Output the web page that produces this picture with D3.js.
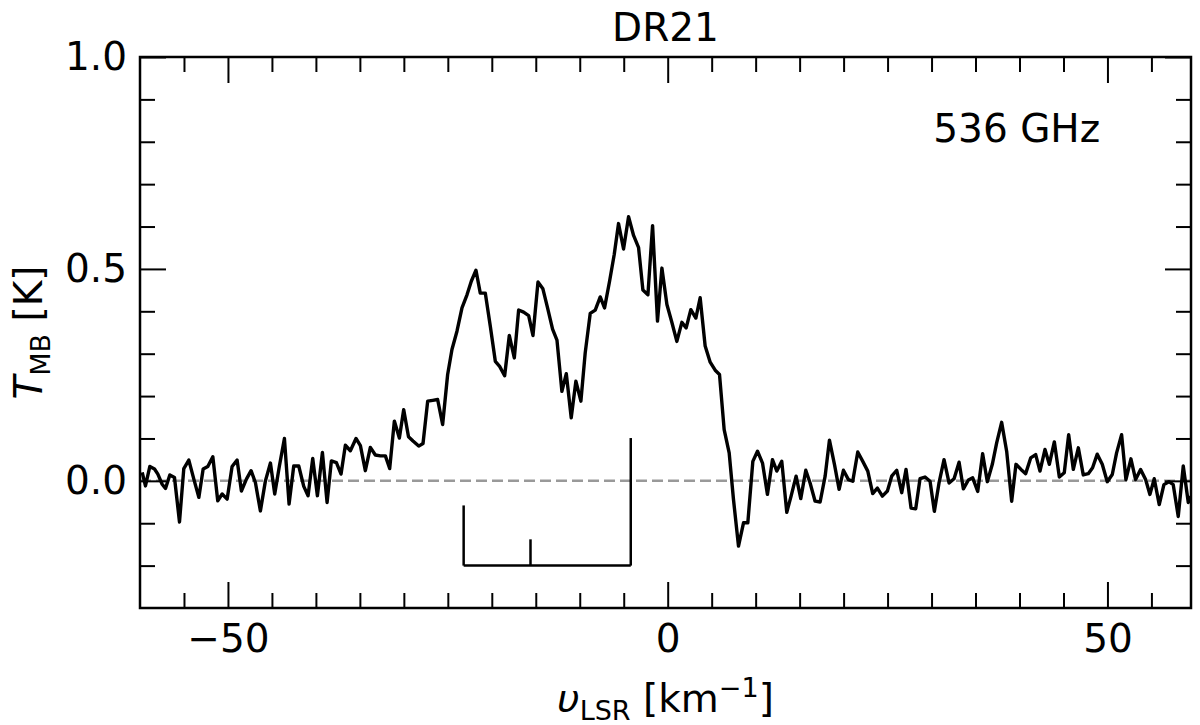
<!DOCTYPE html>
<meta charset="utf-8">
<script src="https://d3js.org/d3.v7.min.js"></script>

<div id="my_dataviz"></div>

<style>
  body { margin: 0; background: white; }
  #my_dataviz text { font-family: "DejaVu Sans", sans-serif; fill: black; }
</style>

<script>
  // Spectrum: velocity (km/s) and main beam temperature (K)
  var velocity = [
    -59.75,-59.38,-58.88,-58.35,-57.97,-57.48,-57.10,-56.61,-56.08,-55.51,
    -55.02,-54.45,-53.88,-53.31,-52.82,-52.29,-51.72,-51.16,-50.66,-50.09,
    -49.53,-48.96,-48.47,-47.90,-47.37,-46.88,-46.31,-45.74,-45.17,-44.68,
    -44.15,-43.58,-43.05,-42.52,-41.95,-41.38,-40.89,-40.36,-39.83,-39.26,
    -38.73,-38.24,-37.67,-37.14,-36.65,-36.08,-35.44,-34.94,-34.38,-33.81,
    -33.24,-32.67,-32.10,-31.61,
    -31.08,-30.51,-30.02,-29.47,-28.96,-28.31,-27.82,-27.29,-26.72,-26.16,
    -25.59,-25.02,-24.53,-23.96,-23.39,-22.82,-22.33,-21.80,-21.31,-20.74,
    -20.17,-19.60,-19.11,-18.54,-18.01,-17.44,-16.95,-16.38,-15.81,-15.32,
    -14.75,-14.19,-13.66,-13.09,-12.59,-12.03,-11.53,-10.97,-10.44,-9.87,
    -9.38,-8.81,-8.24,-7.67,
    -7.18,-6.61,-6.08,-5.59,-5.02,-4.45,-3.88,-3.31,-2.82,-2.25,
    -1.72,-1.16,-0.66,-0.09,0.47,1.04,1.61,2.10,2.63,3.20,
    3.69,4.26,4.83,5.40,5.89,6.42,6.99,7.48,8.05,8.62,
    9.11,9.68,10.21,10.78,
    11.34,11.91,12.41,12.97,13.54,14.03,14.60,15.13,15.70,16.19,
    16.76,17.33,17.90,18.39,18.96,19.49,19.98,20.55,21.04,21.61,
    22.18,22.75,23.31,23.84,24.41,24.98,25.47,26.04,26.61,27.10,
    27.67,28.20,28.69,29.26,29.83,30.32,30.85,31.42,31.99,32.56,
    33.13,33.62,34.19,34.68,
    35.25,35.81,36.34,36.91,37.41,37.97,38.54,39.11,39.60,40.17,
    40.70,41.27,41.84,42.33,42.90,43.39,43.96,44.53,45.09,45.59,
    46.12,46.69,47.25,47.82,48.31,48.84,49.41,49.98,50.55,51.04,
    51.61,52.10,52.67,53.20,53.77,54.34,54.83,55.32,55.89,56.42,
    56.99,57.48,58.05,58.62,59.19,59.45
  ];
  var tmb = [
    0.020,-0.012,0.034,0.028,0.016,-0.008,-0.018,0.014,0.008,-0.097,
    0.029,0.049,0.004,-0.039,0.028,0.034,0.057,-0.047,-0.031,-0.043,
    0.034,0.049,-0.024,0.004,0.024,-0.004,-0.071,0.000,0.042,-0.031,
    0.035,0.100,-0.055,0.035,0.035,-0.013,-0.035,0.053,-0.035,0.067,
    -0.051,0.047,0.043,0.016,0.084,0.071,0.100,0.083,0.024,0.079,
    0.061,0.059,0.059,0.029,
    0.141,0.101,0.168,0.104,0.094,0.082,0.088,0.188,0.190,0.192,
    0.133,0.251,0.310,0.353,0.408,0.439,0.471,0.497,0.443,0.443,
    0.365,0.282,0.270,0.248,0.343,0.290,0.403,0.398,0.390,0.343,
    0.469,0.453,0.408,0.358,0.332,0.211,0.253,0.149,0.235,0.188,
    0.302,0.395,0.403,0.434,
    0.408,0.471,0.534,0.607,0.547,0.623,0.579,0.550,0.450,0.439,
    0.602,0.377,0.502,0.416,0.374,0.329,0.374,0.361,0.404,0.384,
    0.432,0.318,0.280,0.261,0.251,0.121,0.066,-0.044,-0.154,-0.099,
    -0.099,0.046,0.070,0.042,
    -0.032,0.050,0.023,0.046,-0.074,-0.036,0.011,-0.042,0.025,-0.005,
    -0.048,-0.050,0.011,0.096,0.039,-0.020,0.025,0.003,-0.001,0.068,
    0.046,0.023,-0.030,-0.017,-0.036,-0.024,0.011,0.025,-0.028,0.027,
    -0.064,-0.066,0.005,0.009,-0.001,-0.072,-0.005,0.050,-0.005,0.005,
    0.044,-0.019,0.002,0.007,
    -0.025,0.064,-0.002,0.039,0.090,0.138,0.070,-0.048,0.039,0.027,
    0.017,0.054,0.062,0.023,0.074,0.039,0.092,0.009,0.019,0.109,
    0.027,0.078,0.014,0.017,0.031,0.063,0.039,-0.002,0.015,0.066,
    0.109,0.003,0.052,0.003,0.027,0.003,-0.032,0.005,-0.056,-0.009,
    -0.002,-0.009,-0.084,0.035,-0.051,-0.036
  ];

  // Hyperfine component markers (velocity, top of stick) and the bar they hang from
  var hfsVelocity = [-23.2, -15.6, -4.2];
  var hfsTop = [-0.058, -0.138, 0.101];
  var hfsBase = -0.2;

  // Axis ticks
  var xMajor = [-50, 0, 50];
  var xMinor = [-55, -45, -40, -35, -30, -25, -20, -15, -10, -5, 5, 10, 15, 20, 25, 30, 35, 40, 45, 55];
  var yMajor = [0.0, 0.5, 1.0];
  var yMinor = [-0.2, -0.1, 0.1, 0.2, 0.3, 0.4, 0.6, 0.7, 0.8, 0.9];

  var data = velocity.map(function(v, i) { return {v: v, t: tmb[i]}; });

  // Dimensions and margins of graph
  var margin = {top: 57, right: 9, bottom: 117, left: 140},
      width = 1200 - margin.left - margin.right,
      height = 725 - margin.top - margin.bottom;

  var root = d3.select("#my_dataviz")
    .append("svg")
      .attr("width", 1200)
      .attr("height", 725);

  var svg = root.append("g")
      .attr("transform", "translate(" + margin.left + "," + margin.top + ")");

  var x = d3.scaleLinear().domain([-60, 59.5]).range([0, width]);
  var y = d3.scaleLinear().domain([-0.3, 1.0]).range([height, 0]);

  svg.append("clipPath").attr("id", "clip")
    .append("rect").attr("width", width).attr("height", height);

  // zero line
  svg.append("line")
    .attr("x1", 0).attr("x2", width)
    .attr("y1", y(0)).attr("y2", y(0))
    .attr("stroke", "#999999")
    .attr("stroke-width", 2.5)
    .attr("stroke-dasharray", "11,5");

  // the spectrum
  svg.append("path")
    .datum(data)
    .attr("clip-path", "url(#clip)")
    .attr("fill", "none")
    .attr("stroke", "black")
    .attr("stroke-width", 3.4)
    .attr("stroke-linejoin", "round")
    .attr("d", d3.line()
      .x(function(d) { return x(d.v); })
      .y(function(d) { return y(d.t); }));

  // hyperfine sticks
  svg.append("line")
    .attr("x1", x(d3.min(hfsVelocity))).attr("x2", x(d3.max(hfsVelocity)))
    .attr("y1", y(hfsBase)).attr("y2", y(hfsBase))
    .attr("stroke", "black").attr("stroke-width", 2.5);
  svg.selectAll(".hfs")
    .data(hfsVelocity)
    .enter()
    .append("line")
      .attr("class", "hfs")
      .attr("x1", function(d) { return x(d); })
      .attr("x2", function(d) { return x(d); })
      .attr("y1", y(hfsBase))
      .attr("y2", function(d, i) { return y(hfsTop[i]); })
      .attr("stroke", "black")
      .attr("stroke-width", 2.5);

  // axes, ticks pointing inwards on all four sides
  function fmt(d) { return d3.format(".0f")(d).replace("-", "\u2212"); }
  function styleAxis(g) {
    g.selectAll("path").remove();
    g.selectAll("line").attr("stroke", "black").attr("stroke-width", 2);
    g.selectAll("text").attr("font-size", "39px");
  }

  svg.append("g").attr("transform", "translate(0," + height + ")")
    .call(d3.axisBottom(x).tickValues(xMajor).tickSize(-26).tickPadding(16).tickFormat(fmt))
    .call(styleAxis);
  svg.append("g").attr("transform", "translate(0," + height + ")")
    .call(d3.axisBottom(x).tickValues(xMinor).tickSize(-15).tickFormat(""))
    .call(styleAxis);
  svg.append("g")
    .call(d3.axisTop(x).tickValues(xMajor).tickSize(-26).tickFormat(""))
    .call(styleAxis);
  svg.append("g")
    .call(d3.axisTop(x).tickValues(xMinor).tickSize(-15).tickFormat(""))
    .call(styleAxis);

  svg.append("g")
    .call(d3.axisLeft(y).tickValues(yMajor).tickSize(-26).tickPadding(13).tickFormat(d3.format(".1f")))
    .call(styleAxis);
  svg.append("g")
    .call(d3.axisLeft(y).tickValues(yMinor).tickSize(-15).tickFormat(""))
    .call(styleAxis);
  svg.append("g").attr("transform", "translate(" + width + ",0)")
    .call(d3.axisRight(y).tickValues(yMajor).tickSize(-26).tickFormat(""))
    .call(styleAxis);
  svg.append("g").attr("transform", "translate(" + width + ",0)")
    .call(d3.axisRight(y).tickValues(yMinor).tickSize(-15).tickFormat(""))
    .call(styleAxis);

  // frame
  svg.append("rect")
    .attr("width", width).attr("height", height)
    .attr("fill", "none").attr("stroke", "black").attr("stroke-width", 2.5);

  // title and annotation
  svg.append("text")
    .attr("x", width / 2).attr("y", -16)
    .attr("text-anchor", "middle")
    .attr("font-size", "39px")
    .text("DR21");
  svg.append("text")
    .attr("x", x(30.2)).attr("y", y(0.8))
    .attr("font-size", "39px")
    .text("536 GHz");

  // x label
  var xl = svg.append("text")
    .attr("x", width / 2).attr("y", height + 104)
    .attr("text-anchor", "middle")
    .attr("font-size", "39px");
  xl.append("tspan").attr("font-style", "italic").text("\u03c5");
  xl.append("tspan").attr("font-size", "27px").attr("dy", 8).text("LSR");
  xl.append("tspan").attr("dy", -8).text(" [km");
  xl.append("tspan").attr("font-size", "27px").attr("dy", -15).text("\u22121");
  xl.append("tspan").attr("dy", 15).text("]");

  // y label
  var yl = root.append("text")
    .attr("transform", "translate(42," + (margin.top + height / 2) + ") rotate(-90)")
    .attr("text-anchor", "middle")
    .attr("font-size", "39px");
  yl.append("tspan").attr("font-style", "italic").text("T");
  yl.append("tspan").attr("font-size", "27px").attr("dy", 8).text("MB");
  yl.append("tspan").attr("dy", -8).text(" [K]");
</script>
